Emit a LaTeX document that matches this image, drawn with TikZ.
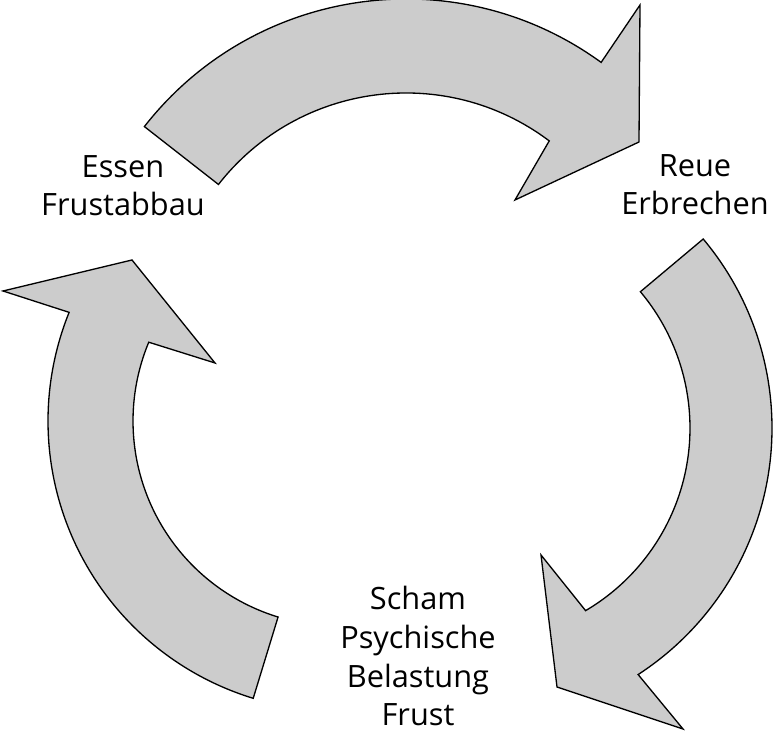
\documentclass[tikz,border=0pt]{standalone}
\usepackage{fontspec}
\setmainfont{Open Sans}
\usetikzlibrary{calc}

\begin{document}
\begin{tikzpicture}[x=0.02cm,y=0.02cm]

		\tikzset{body/.style={draw=black,fill=gray!40,line width=0.75pt,line join=miter}}
		\tikzset{label/.style={inner sep=0pt,align=center,anchor=north,font=\fontsize{17.5}{22}\selectfont}}

		\useasboundingbox (0,0) rectangle (775,732);

		% centres of the three bent arrows
		\coordinate (c1) at (406,401);
		\coordinate (c2) at (478,304);
		\coordinate (c3) at (338,311);

		% top: Essen -> Reue
		\draw[body] ($(c1)+(142:332)$) arc[start angle=142,end angle=54,radius=332]
			-- (640,727) -- (639,590) -- (515,532)
			-- ($(c1)+(53:238)$) arc[start angle=53,end angle=142,radius=238] -- cycle;

		% right: Reue -> Scham
		\draw[body] ($(c2)+(40:294)$) arc[start angle=40,end angle=-57,radius=294]
			-- (683,3) -- (557,45) -- (541,177)
			-- ($(c2)+(-59.5:212)$) arc[start angle=-59.5,end angle=40,radius=212] -- cycle;

		% left: Scham -> Essen
		\draw[body] ($(c3)+(253:290)$) arc[start angle=253,end angle=158,radius=290]
			-- (3,441) -- (132,472) -- (215,369)
			-- ($(c3)+(157.4:205)$) arc[start angle=157.4,end angle=253,radius=205] -- cycle;

		\node[label] (essen) at (123,577) {Essen\\Frustabbau};
		\node[label] (reue) at (695,578) {Reue\\Erbrechen};
		\node[label] (scham) at (418,146) {Scham\\Psychische\\Belastung\\Frust};

	\end{tikzpicture}
\end{document}
